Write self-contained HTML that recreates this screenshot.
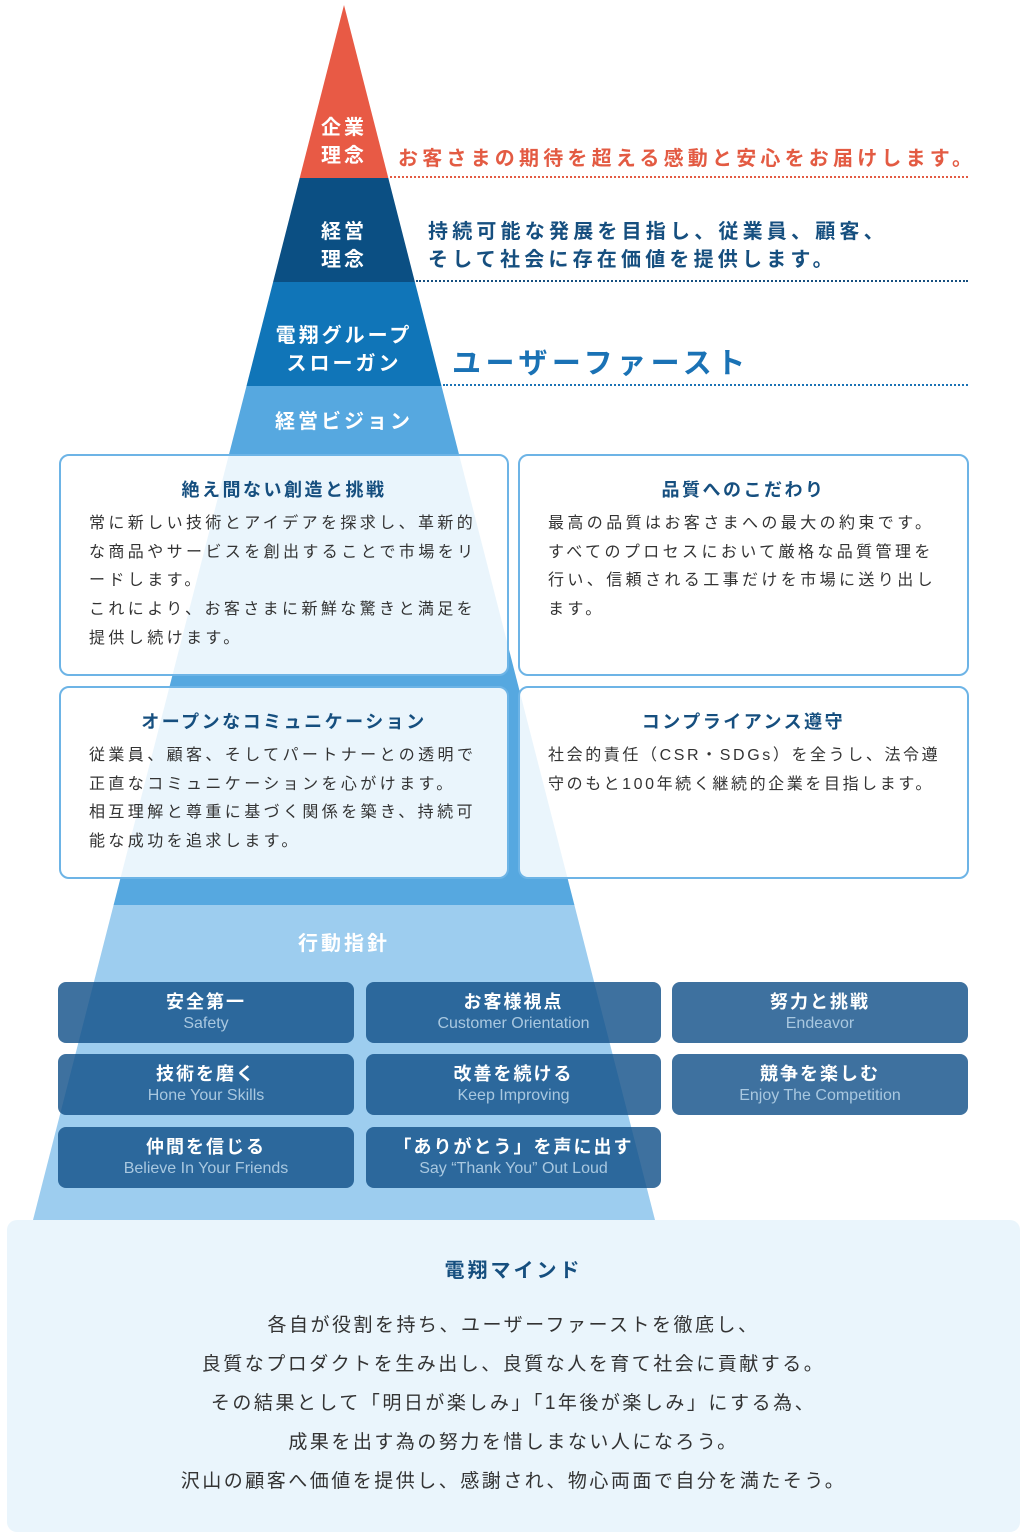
<!DOCTYPE html>
<html><head><meta charset="utf-8"><style>
*{margin:0;padding:0;box-sizing:border-box}
body{width:1026px;height:1538px;background:#fff;position:relative;overflow:hidden;font-family:"Liberation Sans","Noto Sans CJK JP",sans-serif}
.a{position:absolute}
.pl{position:absolute;color:#fff;font-weight:bold;font-size:20px;letter-spacing:3px;text-align:center;line-height:28px}
.dot{position:absolute;height:0;border-top:2px dotted}
.vb{position:absolute;border:2px solid #6db4e6;border-radius:10px;background:rgba(255,255,255,0.88)}
.vb h3{font-size:18px;color:#164f7f;text-align:center;letter-spacing:2.5px;margin-top:22px;line-height:24px}
.vb p{font-size:16px;color:#333;letter-spacing:3.4px;line-height:28.7px;margin:8px 0 0 28px;white-space:nowrap}
.ab{position:absolute;border-radius:8px;background:rgba(20,82,138,0.82);text-align:center;color:#fff;height:61px}
.ab b{display:block;font-size:18px;letter-spacing:2px;line-height:22px;margin-top:9px}
.ab span{display:block;font-size:16px;color:#a9c8e0;line-height:22px}
.bm{position:absolute;left:7px;top:1220px;width:1013px;height:312px;background:#eaf5fc;border-radius:10px;text-align:center}
.bm p{font-size:19px;color:#333;letter-spacing:2.5px;line-height:39px}
</style></head><body>
<svg class="a" style="left:0;top:0" width="1026" height="1538">
<polygon points="344,5 388.3,178 299.7,178" fill="#e85a45"/>
<polygon points="299.7,178 388.3,178 414.9,282 273.1,282" fill="#0b4f83"/>
<polygon points="273.1,282 414.9,282 441.5,386 246.5,386" fill="#1075b8"/>
<polygon points="246.5,386 441.5,386 574.4,905 113.6,905" fill="#56a8e0"/>
<polygon points="113.6,905 574.4,905 655,1220 33,1220" fill="#9dcdef"/>
</svg>
<div class="pl" style="left:294px;top:114px;width:100px">企業<br>理念</div>
<div class="pl" style="left:294px;top:218px;width:100px">経営<br>理念</div>
<div class="pl" style="left:244px;top:322px;width:200px">電翔グループ<br>スローガン</div>
<div class="pl" style="left:244px;top:408px;width:200px">経営ビジョン</div>
<div class="a" style="left:398px;top:142px;font-size:20px;font-weight:bold;color:#e35b43;letter-spacing:4.2px;white-space:nowrap">お客さまの期待を超える感動と安心をお届けします。</div>
<div class="dot" style="left:390px;top:176px;width:578px;border-color:#e35b43"></div>
<div class="a" style="left:428px;top:218px;font-size:20px;font-weight:bold;color:#164f7f;letter-spacing:4.2px;line-height:28px;white-space:nowrap">持続可能な発展を目指し、従業員、顧客、<br>そして社会に存在価値を提供します。</div>
<div class="dot" style="left:416px;top:280px;width:552px;border-color:#164f7f"></div>
<div class="a" style="left:452px;top:340px;font-size:29px;font-weight:bold;color:#1a72b5;letter-spacing:4.5px">ユーザーファースト</div>
<div class="dot" style="left:443px;top:384px;width:525px;border-color:#1a72b5"></div>

<div class="vb" style="left:59px;top:454px;width:450px;height:222px"><h3>絶え間ない創造と挑戦</h3><p>常に新しい技術とアイデアを探求し、革新的<br>な商品やサービスを創出することで市場をリ<br>ードします。<br>これにより、お客さまに新鮮な驚きと満足を<br>提供し続けます。</p></div>
<div class="vb" style="left:518px;top:454px;width:451px;height:222px"><h3>品質へのこだわり</h3><p>最高の品質はお客さまへの最大の約束です。<br>すべてのプロセスにおいて厳格な品質管理を<br>行い、信頼される工事だけを市場に送り出し<br>ます。</p></div>
<div class="vb" style="left:59px;top:686px;width:450px;height:193px"><h3>オープンなコミュニケーション</h3><p>従業員、顧客、そしてパートナーとの透明で<br>正直なコミュニケーションを心がけます。<br>相互理解と尊重に基づく関係を築き、持続可<br>能な成功を追求します。</p></div>
<div class="vb" style="left:518px;top:686px;width:451px;height:193px"><h3>コンプライアンス遵守</h3><p style="letter-spacing:2.6px">社会的責任（CSR・SDGs）を全うし、法令遵<br>守のもと100年続く継続的企業を目指します。</p></div>

<div class="pl" style="left:244px;top:930px;width:200px;font-size:20px">行動指針</div>
<div class="ab" style="left:58px;top:982px;width:296px"><b>安全第一</b><span>Safety</span></div>
<div class="ab" style="left:366px;top:982px;width:295px"><b>お客様視点</b><span>Customer Orientation</span></div>
<div class="ab" style="left:672px;top:982px;width:296px"><b>努力と挑戦</b><span>Endeavor</span></div>
<div class="ab" style="left:58px;top:1054px;width:296px"><b>技術を磨く</b><span>Hone Your Skills</span></div>
<div class="ab" style="left:366px;top:1054px;width:295px"><b>改善を続ける</b><span>Keep Improving</span></div>
<div class="ab" style="left:672px;top:1054px;width:296px"><b>競争を楽しむ</b><span>Enjoy The Competition</span></div>
<div class="ab" style="left:58px;top:1127px;width:296px"><b>仲間を信じる</b><span>Believe In Your Friends</span></div>
<div class="ab" style="left:366px;top:1127px;width:295px"><b>「ありがとう」を声に出す</b><span>Say “Thank You” Out Loud</span></div>

<div class="bm">
<div style="font-size:20px;font-weight:bold;color:#164f7f;letter-spacing:3px;margin-top:38px;line-height:26px">電翔マインド</div>
<div style="margin-top:22px">
<p>各自が役割を持ち、ユーザーファーストを徹底し、</p>
<p>良質なプロダクトを生み出し、良質な人を育て社会に貢献する。</p>
<p>その結果として「明日が楽しみ」「1年後が楽しみ」にする為、</p>
<p>成果を出す為の努力を惜しまない人になろう。</p>
<p>沢山の顧客へ価値を提供し、感謝され、物心両面で自分を満たそう。</p>
</div></div>
</body></html>
